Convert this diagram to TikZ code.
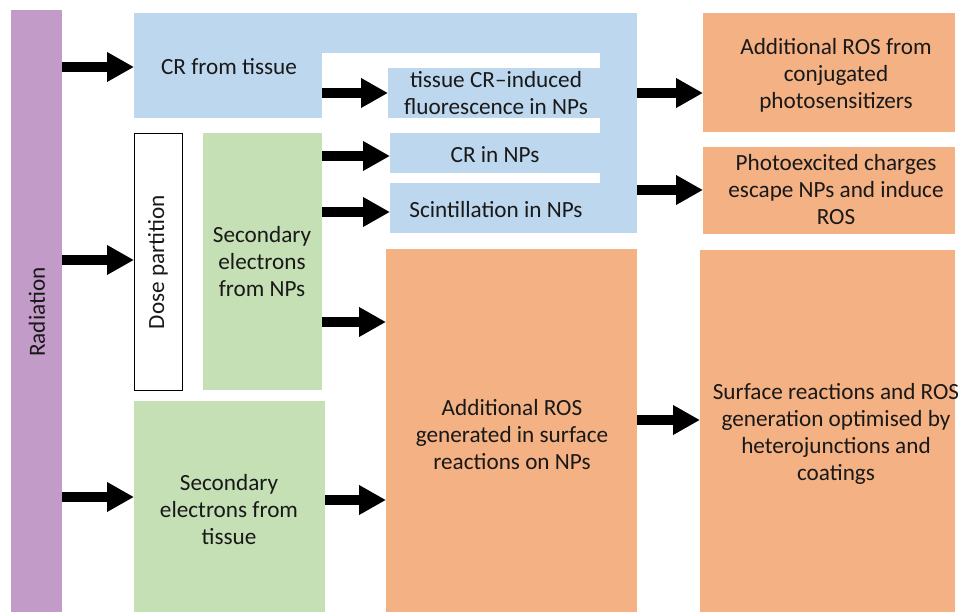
\documentclass[tikz,border=0pt]{standalone}
\usepackage{fontspec}
\setmainfont{Carlito}
\usetikzlibrary{arrows.meta}
\definecolor{radc}{HTML}{C39BC8}
\definecolor{bluc}{HTML}{BDD7EE}
\definecolor{grnc}{HTML}{C5E0B4}
\definecolor{orac}{HTML}{F4B183}
\tikzset{
  blk/.style={anchor=north west, inner sep=0pt, outer sep=0pt, draw=none},
  txt/.style={align=center, inner sep=0pt, font=\fontsize{23.2}{27}\selectfont, text=black!90},
  arr/.style={line width=10pt, -{Triangle[length=27pt,width=28pt]}}
}
\begin{document}
\begin{tikzpicture}[x=1pt,y=-1pt]
\useasboundingbox (0,0) rectangle (958,612);
% purple radiation bar
\node[blk, fill=radc, minimum width=51pt, minimum height=602pt] (rad) at (11,10) {};
\node[txt, rotate=90] (radt) at (37,312) {Radiation};
% blue composite
\fill[bluc] (134,13) rectangle (637,53);
\fill[bluc] (600,13) rectangle (637,233);
\node[blk, fill=bluc, minimum width=188pt, minimum height=105pt] (crt) at (134,13) {};
\node[blk, fill=bluc, minimum width=212pt, minimum height=50pt] (tcr) at (388,68) {};
\node[blk, fill=bluc, minimum width=210pt, minimum height=40pt] (crn) at (390,133) {};
\node[blk, fill=bluc, minimum width=247pt, minimum height=50pt] (sci) at (390,183) {};
\node[txt] at (229,67) {CR from tissue};
\node[txt] at (496,93) {tissue CR–induced\\fluorescence in NPs};
\node[txt] at (495,155) {CR in NPs};
\node[txt] at (496,210) {Scintillation in NPs};
% dose partition
\node[blk, fill=white, draw=black, line width=1pt, minimum width=48pt, minimum height=256pt] (dose) at (134,134) {};
\node[txt, rotate=90] at (158,262) {Dose partition};
% green boxes
\node[blk, fill=grnc, minimum width=119pt, minimum height=257pt] (gnp) at (203,133) {};
\node[txt] at (262,262) {Secondary\\electrons\\from NPs};
\node[blk, fill=grnc, minimum width=191pt, minimum height=211pt] (gt) at (134,401) {};
\node[txt] at (229,510) {Secondary\\electrons from\\tissue};
% orange boxes
\node[blk, fill=orac, minimum width=251pt, minimum height=363pt] (oc) at (386,249) {};
\node[txt] at (512,435) {Additional ROS\\generated in surface\\reactions on NPs};
\node[blk, fill=orac, minimum width=252pt, minimum height=119pt] (o1) at (703,13) {};
\node[txt] at (836,75) {Additional ROS from\\conjugated\\photosensitizers};
\node[blk, fill=orac, minimum width=252pt, minimum height=87pt] (o2) at (703,147) {};
\node[txt] at (836,190) {Photoexcited charges\\escape NPs and induce\\ROS};
\node[blk, fill=orac, minimum width=255pt, minimum height=362pt] (o3) at (700,250) {};
\node[txt] at (836,434) {Surface reactions and ROS\\generation optimised by\\heterojunctions and\\coatings};
% arrows
\draw[arr] (rad.east |- 0,67) -- (crt.west |- 0,67);
\draw[arr] (crt.east |- 0,93) -- (tcr.west |- 0,93);
\draw[arr] (gnp.east |- 0,156) -- (crn.west |- 0,156);
\draw[arr] (gnp.east |- 0,212) -- (sci.west |- 0,212);
\draw[arr] (rad.east |- 0,260) -- (dose.west |- 0,260);
\draw[arr] (gnp.east |- 0,322) -- (oc.west |- 0,322);
\draw[arr] (rad.east |- 0,497) -- (gt.west |- 0,497);
\draw[arr] (gt.east |- 0,500) -- (oc.west |- 0,500);
\draw[arr] (sci.east |- 0,93) -- (o1.west |- 0,93);
\draw[arr] (sci.east |- 0,190) -- (o2.west |- 0,190);
\draw[arr] (oc.east |- 0,420) -- (o3.west |- 0,420);
\end{tikzpicture}
\end{document}
